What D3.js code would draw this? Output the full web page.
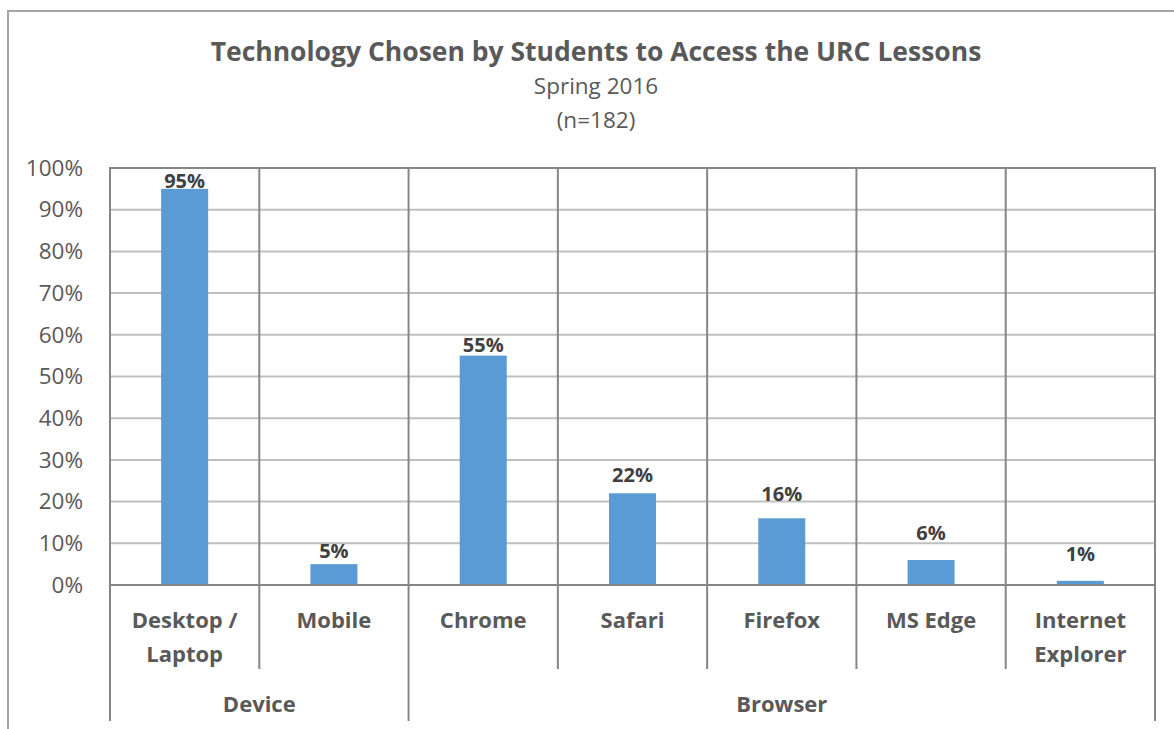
<!DOCTYPE html>
<html>
<head>
<meta charset="utf-8">
<script src="https://cdn.jsdelivr.net/npm/d3@7"></script>
<style>
  body { margin: 0; background: #fff; }
  text { font-family: 'Open Sans', sans-serif; }
</style>
</head>
<body>
<svg id="chart"></svg>
<script>
// data
const categories = ['Desktop / Laptop', 'Mobile', 'Chrome', 'Safari', 'Firefox', 'MS Edge', 'Internet Explorer'];
const groups = ['Device', 'Device', 'Browser', 'Browser', 'Browser', 'Browser', 'Browser'];
const values = [95, 5, 55, 22, 16, 6, 1];
const yTicks = [0, 10, 20, 30, 40, 50, 60, 70, 80, 90, 100];
const catLines = [['Desktop /', 'Laptop'], ['Mobile'], ['Chrome'], ['Safari'], ['Firefox'], ['MS Edge'], ['Internet', 'Explorer']];

const width = 1174, height = 729;
const margin = { top: 168, right: 19, bottom: 144, left: 110 };
// labels were nudged by hand in the original, gap above each bar (px)
const labelGap = [0, 5, 3, 10, 16, 19, 19];

const svg = d3.select('#chart').attr('width', width).attr('height', height);

// outer chart border
svg.append('rect')
  .attr('x', 8).attr('y', 11)
  .attr('width', 1180).attr('height', 740)
  .attr('fill', 'none')
  .attr('stroke', '#a6a6a6')
  .attr('stroke-width', 2);

const x = d3.scaleBand()
  .domain(categories)
  .range([margin.left, width - margin.right])
  .paddingInner(0).paddingOuter(0);

const y = d3.scaleLinear()
  .domain([0, 100])
  .range([height - margin.bottom, margin.top]);

const y0 = y(0);

// horizontal gridlines
svg.append('g')
  .selectAll('line')
  .data(yTicks.filter(d => d > 0 && d < 100))
  .enter().append('line')
  .attr('x1', x.range()[0]).attr('x2', x.range()[1])
  .attr('y1', d => y(d)).attr('y2', d => y(d))
  .attr('stroke', '#bfbfbf').attr('stroke-width', 2);

// y axis labels
const yAxis = svg.append('g')
  .attr('transform', `translate(${margin.left - 27},0)`)
  .call(d3.axisLeft(y).tickValues(yTicks).tickSize(0).tickFormat(d => d + '%'));
yAxis.select('.domain').remove();
yAxis.selectAll('text')
  .attr('x', 0)
  .style('font-family', "'Open Sans', sans-serif")
  .style('font-size', '22.5px')
  .attr('fill', '#595959');

// bars
const barW = x.bandwidth() * 0.315;
svg.append('g')
  .selectAll('rect')
  .data(values)
  .enter().append('rect')
  .attr('x', (d, i) => x(categories[i]) + (x.bandwidth() - barW) / 2)
  .attr('y', d => y(d))
  .attr('width', barW)
  .attr('height', d => y0 - y(d))
  .attr('fill', '#5b9bd5');

// value labels
svg.append('g')
  .selectAll('text')
  .data(values)
  .enter().append('text')
  .attr('x', (d, i) => x(categories[i]) + x.bandwidth() / 2)
  .attr('y', (d, i) => y(d) - 1 - labelGap[i])
  .attr('text-anchor', 'middle')
  .style('font-size', '20px')
  .style('font-weight', 'bold')
  .attr('fill', '#404040')
  .text(d => d + '%');

// plot frame: top, zero line, category separators
const frame = svg.append('g').attr('stroke', '#868686').attr('stroke-width', 2);
frame.append('line')
  .attr('x1', x.range()[0] - 1).attr('x2', x.range()[1] + 1)
  .attr('y1', y(100)).attr('y2', y(100));
frame.append('line')
  .attr('x1', x.range()[0] - 1).attr('x2', x.range()[1] + 1)
  .attr('y1', y0).attr('y2', y0);

const edges = categories.map(c => x(c)).concat([x.range()[1]]);
frame.selectAll('.sep')
  .data(edges)
  .enter().append('line')
  .attr('x1', d => d).attr('x2', d => d)
  .attr('y1', y(100)).attr('y2', y0 + 84);

// group separators
const groupEdges = [x.range()[0]];
groups.forEach((g, i) => { if (i > 0 && g !== groups[i - 1]) groupEdges.push(x(categories[i])); });
groupEdges.push(x.range()[1]);
frame.selectAll('.gsep')
  .data(groupEdges)
  .enter().append('line')
  .attr('x1', d => d).attr('x2', d => d)
  .attr('y1', y0 + 84).attr('y2', y0 + 136);

// category labels
svg.append('g')
  .selectAll('text')
  .data(catLines)
  .enter().append('text')
  .attr('text-anchor', 'middle')
  .attr('fill', '#595959')
  .style('font-size', '22px')
  .style('font-weight', 'bold')
  .each(function (lines, i) {
    d3.select(this).selectAll('tspan')
      .data(lines)
      .enter().append('tspan')
      .attr('x', x(categories[i]) + x.bandwidth() / 2)
      .attr('y', (d, j) => y0 + 43 + j * 34)
      .text(d => d);
  });

// group labels
const uniqueGroups = Array.from(new Set(groups));
svg.append('g')
  .selectAll('text')
  .data(uniqueGroups)
  .enter().append('text')
  .attr('x', g => {
    const idx = groups.map((d, i) => d === g ? i : -1).filter(i => i >= 0);
    return (x(categories[idx[0]]) + x(categories[idx[idx.length - 1]]) + x.bandwidth()) / 2;
  })
  .attr('y', y0 + 127)
  .attr('text-anchor', 'middle')
  .attr('fill', '#595959')
  .style('font-size', '22px')
  .style('font-weight', 'bold')
  .text(d => d);

// titles
svg.append('text')
  .attr('x', 596).attr('y', 61)
  .attr('text-anchor', 'middle')
  .attr('fill', '#595959')
  .style('font-size', '26.5px')
  .style('font-weight', 'bold')
  .text('Technology Chosen by Students to Access the URC Lessons');
svg.append('text')
  .attr('x', 596).attr('y', 94)
  .attr('text-anchor', 'middle')
  .attr('fill', '#595959')
  .style('font-size', '22.5px')
  .text('Spring 2016');
svg.append('text')
  .attr('x', 596).attr('y', 128)
  .attr('text-anchor', 'middle')
  .attr('fill', '#595959')
  .style('font-size', '22.5px')
  .text('(n=182)');
</script>
</body>
</html>
